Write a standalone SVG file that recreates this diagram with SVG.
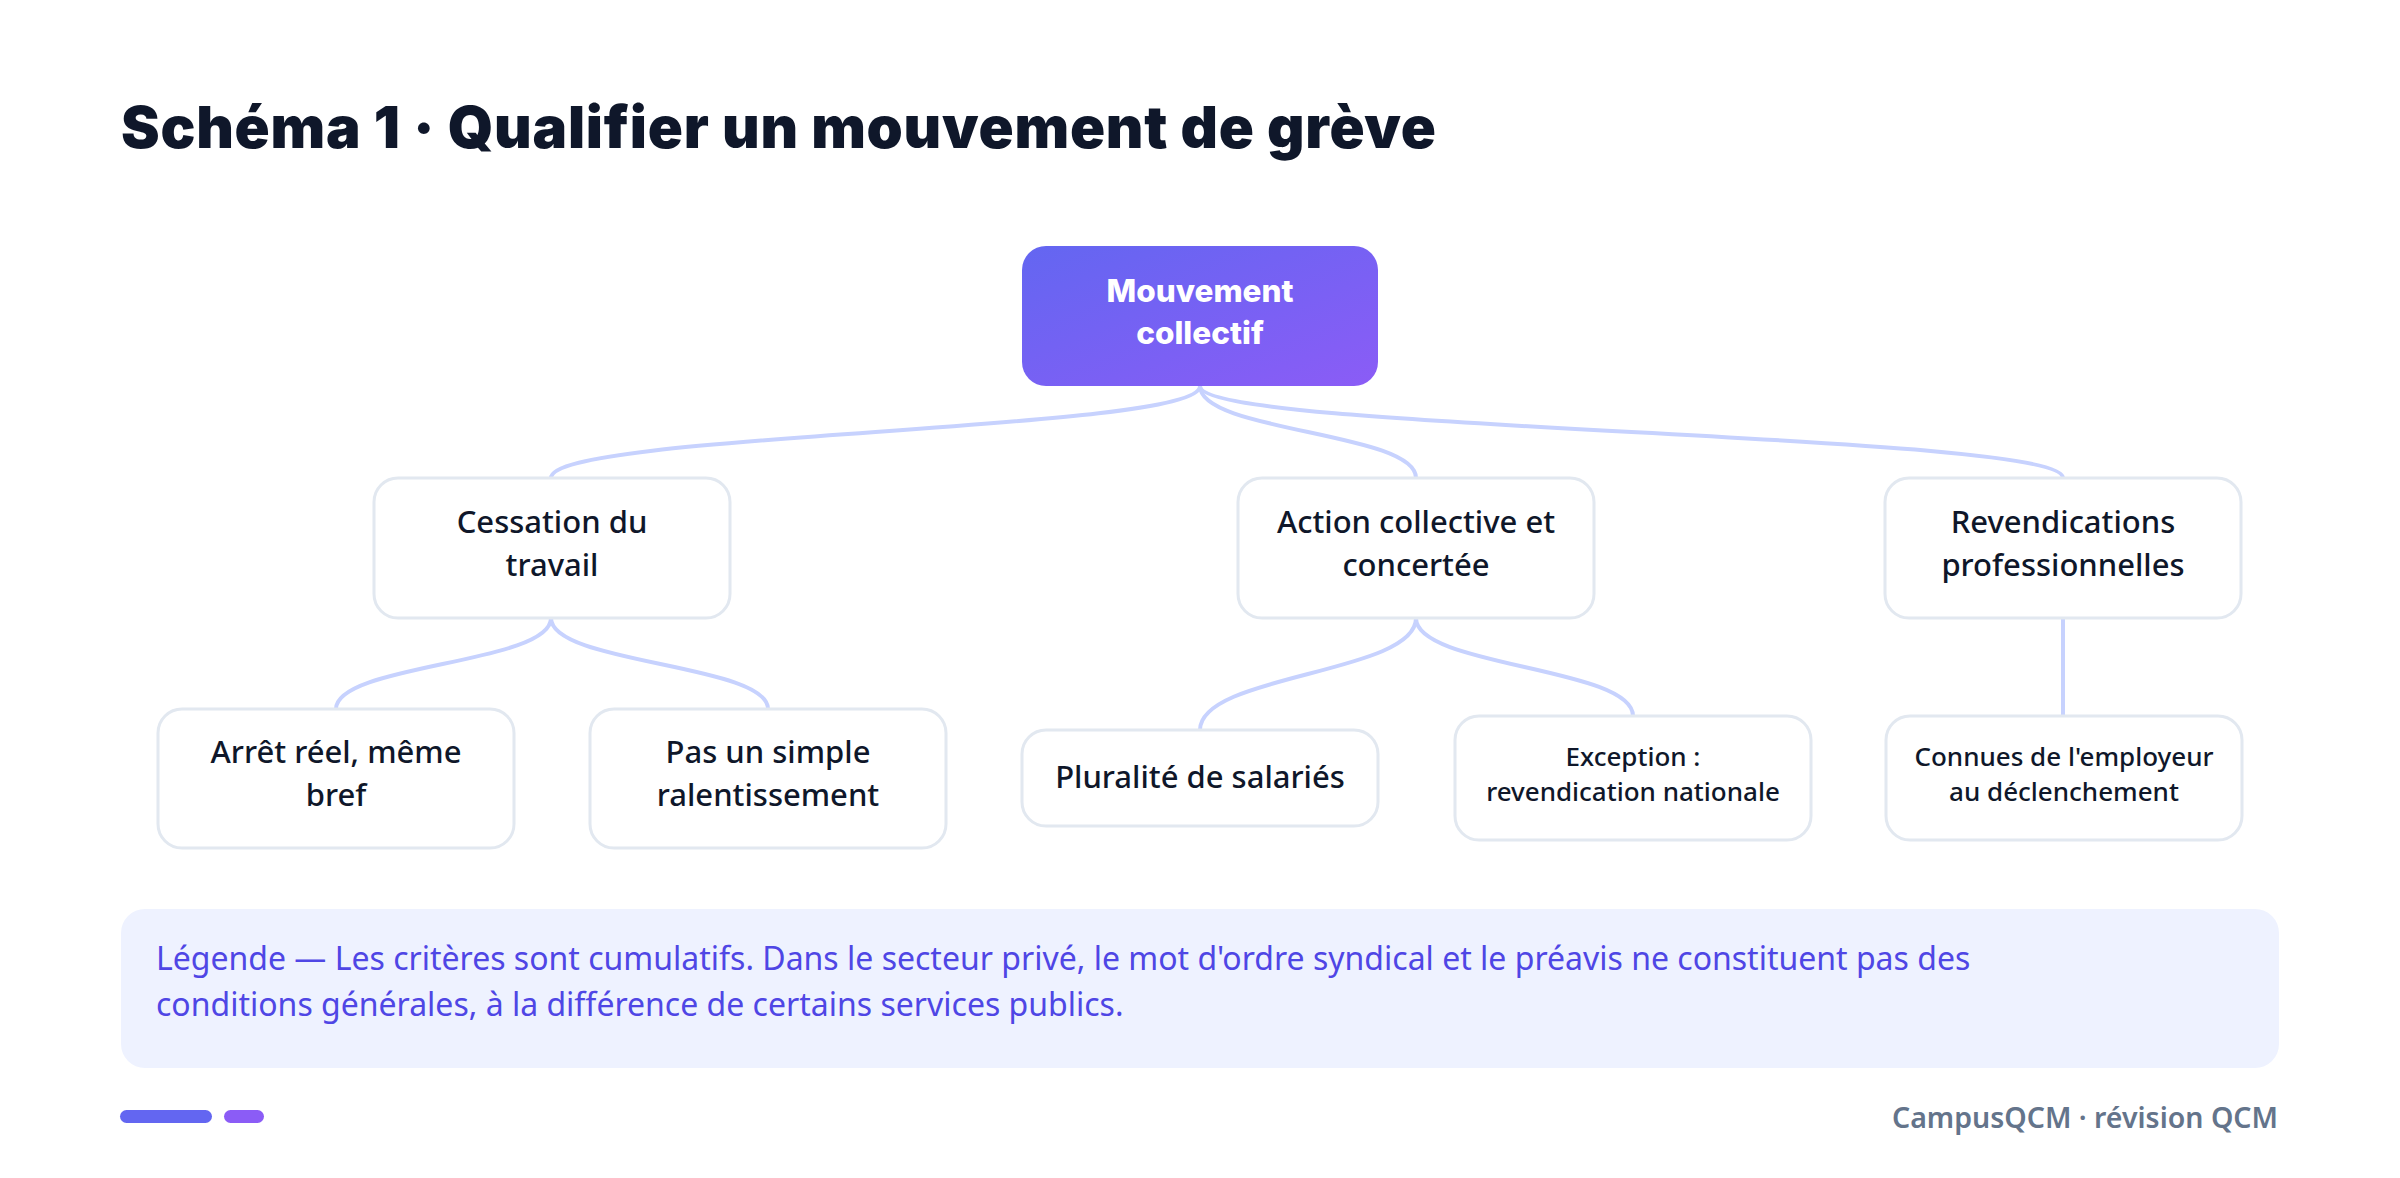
<svg xmlns="http://www.w3.org/2000/svg" width="2400" height="1178" viewBox="0 0 2400 1178">
<defs>
<linearGradient id="rootGrad" x1="0" y1="0" x2="1" y2="1">
<stop offset="0" stop-color="#6366F1"/>
<stop offset="1" stop-color="#8B5CF6"/>
</linearGradient>
<style>
.title{font-family:"Inter","Lato","Noto Sans",sans-serif;font-weight:900;font-size:58px;fill:#0F172A}
.box{fill:#FFFFFF;stroke:#E2E8F0;stroke-width:3}
.lbl{font-family:"Noto Sans","Open Sans",sans-serif;font-weight:500;fill:#0F172A;text-anchor:middle}
.l1{font-size:31px}
.l2{font-size:26px}
.root{font-family:"Inter","Lato","Noto Sans",sans-serif;font-weight:800;font-size:31.5px;fill:#FFFFFF;text-anchor:middle}
.edge{fill:none;stroke:#C7D2FE;stroke-width:4;stroke-linecap:round}
.legend{font-family:"Noto Sans","Open Sans",sans-serif;font-size:32px;fill:#4F46E5}
.foot{font-family:"Noto Sans","Open Sans",sans-serif;font-weight:600;font-size:28.5px;fill:#64748B;text-anchor:end}
</style>
</defs>
<rect x="0" y="0" width="2400" height="1178" fill="#FFFFFF"/>
<text class="title" x="121" y="148" textLength="1315">Schéma 1 · Qualifier un mouvement de grève</text>

<g id="connectors">
<path class="edge" d="M1200,386 C1200,432 551,432 551,478"/>
<path class="edge" d="M1200,386 C1200,432 1416,432 1416,478"/>
<path class="edge" d="M1200,386 C1200,432 2063,432 2063,478"/>
<path class="edge" d="M551,618 C551,664 336,664 336,709"/>
<path class="edge" d="M551,618 C551,664 768,664 768,709"/>
<path class="edge" d="M1416,618 C1416,674 1200,674 1200,730"/>
<path class="edge" d="M1416,618 C1416,667 1633,667 1633,716"/>
<path class="edge" d="M2063,618 L2063,716"/>
</g>

<g id="root">
<rect x="1022" y="246" width="356" height="140" rx="24" fill="url(#rootGrad)"/>
<text class="root" x="1200" y="302">Mouvement</text>
<text class="root" x="1200" y="344">collectif</text>
</g>

<g id="cessation">
<rect class="box" x="374" y="478" width="356" height="140" rx="24"/>
<text class="lbl l1" x="552" y="533">Cessation du</text>
<text class="lbl l1" x="552" y="576">travail</text>
</g>

<g id="action">
<rect class="box" x="1238" y="478" width="356" height="140" rx="24"/>
<text class="lbl l1" x="1416" y="533">Action collective et</text>
<text class="lbl l1" x="1416" y="576">concertée</text>
</g>

<g id="revendications">
<rect class="box" x="1885" y="478" width="356" height="140" rx="24"/>
<text class="lbl l1" x="2063" y="533">Revendications</text>
<text class="lbl l1" x="2063" y="576">professionnelles</text>
</g>

<g id="arret">
<rect class="box" x="158" y="709" width="356" height="139" rx="24"/>
<text class="lbl l1" x="336" y="763">Arrêt réel, même</text>
<text class="lbl l1" x="336" y="806">bref</text>
</g>

<g id="ralentissement">
<rect class="box" x="590" y="709" width="356" height="139" rx="24"/>
<text class="lbl l1" x="768" y="763">Pas un simple</text>
<text class="lbl l1" x="768" y="806">ralentissement</text>
</g>

<g id="pluralite">
<rect class="box" x="1022" y="730" width="356" height="96" rx="24"/>
<text class="lbl l1" x="1200" y="788">Pluralité de salariés</text>
</g>

<g id="exception">
<rect class="box" x="1455" y="716" width="356" height="124" rx="24"/>
<text class="lbl l2" x="1633" y="766">Exception :</text>
<text class="lbl l2" x="1633" y="801">revendication nationale</text>
</g>

<g id="connues">
<rect class="box" x="1886" y="716" width="356" height="124" rx="24"/>
<text class="lbl l2" x="2064" y="766">Connues de l'employeur</text>
<text class="lbl l2" x="2064" y="801">au déclenchement</text>
</g>

<g id="legend">
<rect x="121" y="909" width="2158" height="159" rx="24" fill="#EEF2FF"/>
<text class="legend" x="156" y="970">Légende — Les critères sont cumulatifs. Dans le secteur privé, le mot d'ordre syndical et le préavis ne constituent pas des</text>
<text class="legend" x="156" y="1016">conditions générales, à la différence de certains services publics.</text>
</g>

<g id="footer">
<rect x="120" y="1110" width="92" height="13" rx="6.5" fill="#6366F1"/>
<rect x="224" y="1110" width="40" height="13" rx="6.5" fill="#8B5CF6"/>
<text class="foot" x="2278" y="1128">CampusQCM · révision QCM</text>
</g>
</svg>
